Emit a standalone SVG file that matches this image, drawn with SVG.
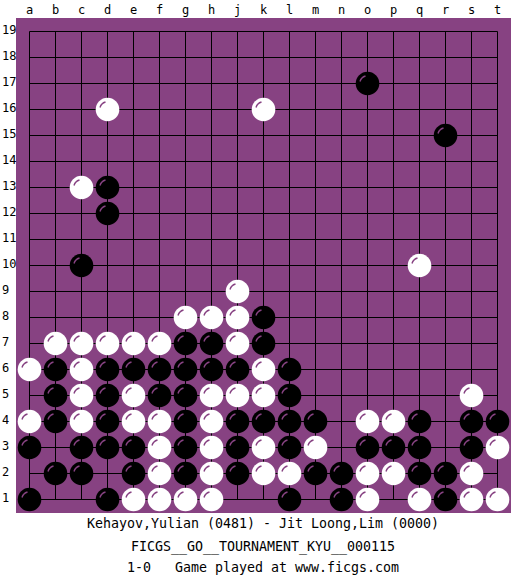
<svg xmlns="http://www.w3.org/2000/svg" width="525" height="575" viewBox="0 0 525 575">
<style>
text{font-family:"DejaVu Sans Mono","Liberation Mono",monospace;fill:#000}
.lbl{font-size:12px}
.col{text-anchor:middle}
.foot{font-size:13.3px;text-anchor:middle}
.grid{stroke:#000;stroke-width:1;fill:none}
.hl{fill:none;stroke:#874282;stroke-width:1.4}
</style>
<defs>
<g id="B"><circle r="11.8" fill="#000"/><path class="hl" d="M-7.5,-2 A8,8 0 0 1 -2,-7.5"/></g>
<g id="W"><circle r="11.8" fill="#fff"/><path class="hl" d="M-7.5,-2 A8,8 0 0 1 -2,-7.5"/></g>
</defs>
<rect width="525" height="575" fill="#fff"/>
<rect x="16" y="18" width="495" height="495" fill="#874282"/>
<g id="labels" class="lbl">
<g class="col">
<text x="29.5" y="14">a</text><text x="55.5" y="14">b</text><text x="81.5" y="14">c</text><text x="107.5" y="14">d</text><text x="133.5" y="14">e</text><text x="159.5" y="14">f</text><text x="185.5" y="14">g</text><text x="211.5" y="14">h</text><text x="237.5" y="14">j</text><text x="263.5" y="14">k</text><text x="289.5" y="14">l</text><text x="315.5" y="14">m</text><text x="341.5" y="14">n</text><text x="367.5" y="14">o</text><text x="393.5" y="14">p</text><text x="419.5" y="14">q</text><text x="445.5" y="14">r</text><text x="471.5" y="14">s</text><text x="497.5" y="14">t</text>
</g>
<text x="2" y="34">19</text><text x="2" y="60">18</text><text x="2" y="86">17</text><text x="2" y="112">16</text><text x="2" y="138">15</text><text x="2" y="164">14</text><text x="2" y="190">13</text><text x="2" y="216">12</text><text x="2" y="242">11</text><text x="2" y="268">10</text><text x="2" y="294">9</text><text x="2" y="320">8</text><text x="2" y="346">7</text><text x="2" y="372">6</text><text x="2" y="398">5</text><text x="2" y="424">4</text><text x="2" y="450">3</text><text x="2" y="476">2</text><text x="2" y="502">1</text>
</g>
<g id="grid" transform="translate(29.5,31.5)">
<path class="grid" d="M0,0V468M26,0V468M52,0V468M78,0V468M104,0V468M130,0V468M156,0V468M182,0V468M208,0V468M234,0V468M260,0V468M286,0V468M312,0V468M338,0V468M364,0V468M390,0V468M416,0V468M442,0V468M468,0V468M0,0H468M0,26H468M0,52H468M0,78H468M0,104H468M0,130H468M0,156H468M0,182H468M0,208H468M0,234H468M0,260H468M0,286H468M0,312H468M0,338H468M0,364H468M0,390H468M0,416H468M0,442H468M0,468H468"/>
</g>
<g id="black-stones" transform="translate(29.5,31.5)">
<use href="#B" x="338" y="52"/><use href="#B" x="416" y="104"/><use href="#B" x="78" y="156"/><use href="#B" x="78" y="182"/><use href="#B" x="52" y="234"/><use href="#B" x="234" y="286"/>
<use href="#B" x="156" y="312"/><use href="#B" x="182" y="312"/><use href="#B" x="234" y="312"/>
<use href="#B" x="26" y="338"/><use href="#B" x="78" y="338"/><use href="#B" x="104" y="338"/><use href="#B" x="130" y="338"/><use href="#B" x="156" y="338"/><use href="#B" x="182" y="338"/><use href="#B" x="208" y="338"/><use href="#B" x="260" y="338"/>
<use href="#B" x="26" y="364"/><use href="#B" x="78" y="364"/><use href="#B" x="130" y="364"/><use href="#B" x="156" y="364"/><use href="#B" x="260" y="364"/>
<use href="#B" x="26" y="390"/><use href="#B" x="78" y="390"/><use href="#B" x="156" y="390"/><use href="#B" x="208" y="390"/><use href="#B" x="234" y="390"/><use href="#B" x="260" y="390"/><use href="#B" x="286" y="390"/><use href="#B" x="390" y="390"/><use href="#B" x="442" y="390"/><use href="#B" x="468" y="390"/>
<use href="#B" x="0" y="416"/><use href="#B" x="52" y="416"/><use href="#B" x="78" y="416"/><use href="#B" x="104" y="416"/><use href="#B" x="156" y="416"/><use href="#B" x="208" y="416"/><use href="#B" x="260" y="416"/><use href="#B" x="338" y="416"/><use href="#B" x="364" y="416"/><use href="#B" x="390" y="416"/><use href="#B" x="442" y="416"/>
<use href="#B" x="26" y="442"/><use href="#B" x="52" y="442"/><use href="#B" x="104" y="442"/><use href="#B" x="156" y="442"/><use href="#B" x="208" y="442"/><use href="#B" x="286" y="442"/><use href="#B" x="312" y="442"/><use href="#B" x="390" y="442"/><use href="#B" x="416" y="442"/>
<use href="#B" x="0" y="468"/><use href="#B" x="78" y="468"/><use href="#B" x="260" y="468"/><use href="#B" x="312" y="468"/><use href="#B" x="416" y="468"/>
</g>
<g id="white-stones" transform="translate(29.5,31.5)">
<use href="#W" x="78" y="78"/><use href="#W" x="234" y="78"/><use href="#W" x="52" y="156"/><use href="#W" x="390" y="234"/><use href="#W" x="208" y="260"/>
<use href="#W" x="156" y="286"/><use href="#W" x="182" y="286"/><use href="#W" x="208" y="286"/>
<use href="#W" x="26" y="312"/><use href="#W" x="52" y="312"/><use href="#W" x="78" y="312"/><use href="#W" x="104" y="312"/><use href="#W" x="130" y="312"/><use href="#W" x="208" y="312"/>
<use href="#W" x="0" y="338"/><use href="#W" x="52" y="338"/><use href="#W" x="234" y="338"/>
<use href="#W" x="52" y="364"/><use href="#W" x="104" y="364"/><use href="#W" x="182" y="364"/><use href="#W" x="208" y="364"/><use href="#W" x="234" y="364"/><use href="#W" x="442" y="364"/>
<use href="#W" x="0" y="390"/><use href="#W" x="52" y="390"/><use href="#W" x="104" y="390"/><use href="#W" x="130" y="390"/><use href="#W" x="182" y="390"/><use href="#W" x="338" y="390"/><use href="#W" x="364" y="390"/>
<use href="#W" x="130" y="416"/><use href="#W" x="182" y="416"/><use href="#W" x="234" y="416"/><use href="#W" x="286" y="416"/><use href="#W" x="468" y="416"/>
<use href="#W" x="130" y="442"/><use href="#W" x="182" y="442"/><use href="#W" x="234" y="442"/><use href="#W" x="260" y="442"/><use href="#W" x="338" y="442"/><use href="#W" x="364" y="442"/><use href="#W" x="442" y="442"/>
<use href="#W" x="104" y="468"/><use href="#W" x="130" y="468"/><use href="#W" x="156" y="468"/><use href="#W" x="182" y="468"/><use href="#W" x="338" y="468"/><use href="#W" x="390" y="468"/><use href="#W" x="442" y="468"/><use href="#W" x="468" y="468"/>
</g>
<g id="footer" class="foot">
<text x="263" y="528">Kehayov,Yulian (0481) - Jit Loong,Lim (0000)</text>
<text x="263" y="551">FICGS__GO__TOURNAMENT_KYU__000115</text>
<text x="263" y="572" xml:space="preserve">1-0   Game played at www.ficgs.com</text>
</g>
</svg>
